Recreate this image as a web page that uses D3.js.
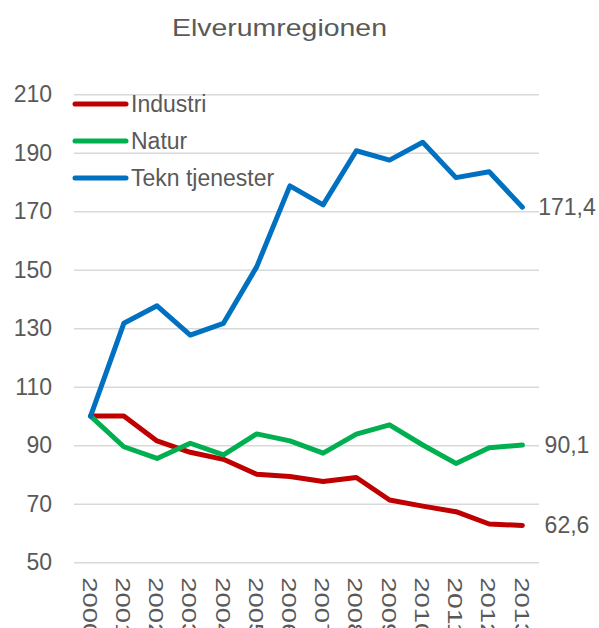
<!DOCTYPE html>
<html>
<head>
<script src="https://d3js.org/d3.v7.min.js"></script>
<style>
    body { margin: 0; background: #fff; }
    text { font-family: "Liberation Sans", Arial, sans-serif; fill: #595959; }
</style>
</head>
<body>
<div id="chart"></div>
<script>

    // data
    var years = ["2000", "2001", "2002", "2003", "2004", "2005", "2006",
                 "2007", "2008", "2009", "2010", "2011", "2012", "2013"];
    var industri = [100, 100, 91.5, 87.6, 85.2, 80.1, 79.3, 77.6, 79.0, 71.3, 69.2, 67.3, 63.1, 62.6];
    var natur = [100, 89.5, 85.5, 90.7, 86.7, 93.9, 91.5, 87.3, 93.8, 97.0, 90.1, 83.8, 89.2, 90.1];
    var tekn = [100, 131.7, 137.7, 127.7, 131.7, 151.0, 178.7, 172.2, 190.7, 187.5, 193.6, 181.5, 183.5, 171.4];
    var seriesNames = ["Industri", "Natur", "Tekn tjenester"];
    var seriesColors = ["#c00000", "#00b050", "#0070c0"];
    var yTicks = [50, 70, 90, 110, 130, 150, 170, 190, 210];

    var width = 599, height = 628;
    var plot = { left: 74, right: 539, top: 94.3, bottom: 562.3 };

    var svg = d3.select("#chart")
        .append("svg")
        .attr("width", width)
        .attr("height", height);

    svg.append("text")
        .attr("x", 279.5)
        .attr("y", 36)
        .attr("text-anchor", "middle")
        .attr("textLength", 215)
        .attr("lengthAdjust", "spacingAndGlyphs")
        .style("font-size", "24.5px")
        .text("Elverumregionen");

    var x = d3.scalePoint()
        .domain(years)
        .range([plot.left, plot.right])
        .padding(0.5);

    var y = d3.scaleLinear()
        .domain([50, 210])
        .range([plot.bottom, plot.top]);

    // y axis + gridlines
    var yAxis = svg.append("g")
        .attr("transform", "translate(" + plot.left + ",0)")
        .call(d3.axisLeft(y).tickValues(yTicks).tickSize(-(plot.right - plot.left)).tickPadding(22));
    yAxis.select(".domain").remove();
    yAxis.selectAll("line").attr("stroke", "#d9d9d9").attr("stroke-width", 1.5);
    yAxis.selectAll("text")
        .attr("fill", "#595959")
        .style("font-size", "23px")
        .style("font-family", "'Liberation Sans', Arial, sans-serif");

    // x axis labels, rotated
    var xAxis = svg.append("g")
        .attr("transform", "translate(0," + plot.bottom + ")")
        .call(d3.axisBottom(x).tickSize(0));
    xAxis.select(".domain").remove();
    xAxis.selectAll("text")
        .attr("fill", "#595959")
        .style("font-size", "21px")
        .style("font-family", "'Liberation Sans', Arial, sans-serif")
        .attr("text-anchor", "start")
        .attr("x", 0)
        .attr("y", 0)
        .attr("dy", "0.35em")
        .attr("textLength", 61)
        .attr("lengthAdjust", "spacingAndGlyphs")
        .attr("transform", "translate(-1,15) rotate(90)");

    var allSeries = [industri, natur, tekn];

    var line = d3.line()
        .x(function (d, i) { return x(years[i]); })
        .y(function (d) { return y(d); });

    allSeries.forEach(function (s, k) {
        svg.append("path")
            .datum(s)
            .attr("fill", "none")
            .attr("stroke", seriesColors[k])
            .attr("stroke-width", 5)
            .attr("stroke-linejoin", "round")
            .attr("stroke-linecap", "round")
            .attr("d", line);

        var last = s[s.length - 1];
        svg.append("text")
            .attr("x", 567)
            .attr("y", y(last))
            .attr("dy", "0.35em")
            .attr("text-anchor", "middle")
            .style("font-size", "23px")
            .text(String(last.toFixed(1)).replace(".", ","));
    });

    // legend
    var legend = svg.append("g");
    seriesNames.forEach(function (name, k) {
        var ly = 104 + k * 37;
        legend.append("line")
            .attr("x1", 75).attr("x2", 126)
            .attr("y1", ly).attr("y2", ly)
            .attr("stroke", seriesColors[k])
            .attr("stroke-width", 5)
            .attr("stroke-linecap", "round");
        legend.append("text")
            .attr("x", 131)
            .attr("y", ly)
            .attr("dy", "0.35em")
            .style("font-size", "23px")
            .text(name);
    });

</script>
</body>
</html>
